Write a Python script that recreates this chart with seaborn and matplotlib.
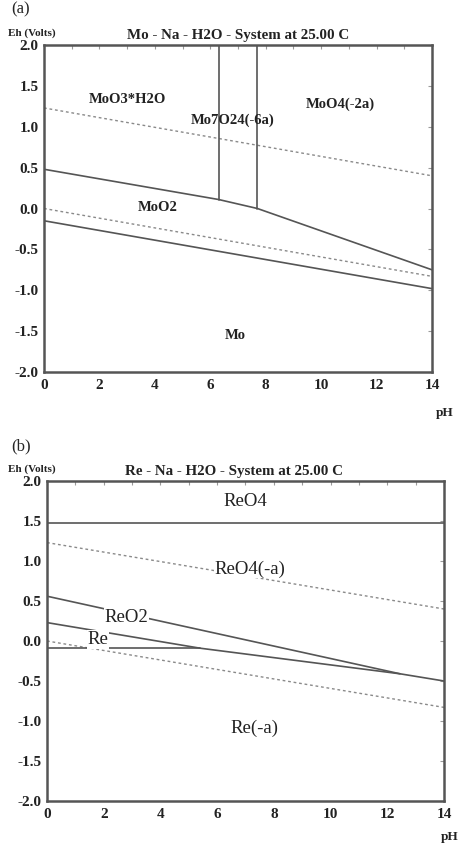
import matplotlib
matplotlib.use("Agg")
import matplotlib.pyplot as plt
import seaborn as sns
import pandas as pd
from matplotlib.ticker import MultipleLocator

# ---------------- data: panel (a) Mo system ----------------
mo_upper_ph = [0, 6.3, 7.7, 14]
mo_upper_eh = [0.48, 0.11, 0.0, -0.75]
mo_lower_ph = [0, 14]
mo_lower_eh = [-0.15, -0.98]
mo_v1_ph = [6.3, 6.3]
mo_v1_eh = [0.11, 2.0]
mo_v2_ph = [7.7, 7.7]
mo_v2_eh = [0.0, 2.0]

# water stability limits (dashed)
o2_ph = [0, 14]
o2_eh = [1.23, 0.40]
h2_ph = [0, 14]
h2_eh = [0.0, -0.83]

mo_labels = ["MoO3*H2O", "Mo7O24(-6a)", "MoO4(-2a)", "MoO2", "Mo"]
mo_label_ph = [3.0, 6.8, 10.7, 4.1, 6.9]
mo_label_eh = [1.33, 1.08, 1.27, 0.01, -1.55]

# ---------------- data: panel (b) Re system ----------------
re_top_ph = [0, 14]
re_top_eh = [1.47, 1.47]
reo2_upper_ph = [0, 12.45, 14]
reo2_upper_eh = [0.56, -0.41, -0.50]
re_upper_ph = [0, 5.4, 12.45]
re_upper_eh = [0.23, -0.09, -0.41]
re_lower_ph = [0, 5.4]
re_lower_eh = [-0.09, -0.09]

re_labels = ["ReO4", "ReO4(-a)", "ReO2", "Re", "Re(-a)"]
re_label_ph = [7.0, 7.15, 2.8, 1.8, 7.3]
re_label_eh = [1.74, 0.90, 0.30, 0.02, -1.09]

x_ticks = [0, 2, 4, 6, 8, 10, 12, 14]
y_ticks = [-2.0, -1.5, -1.0, -0.5, 0.0, 0.5, 1.0, 1.5, 2.0]

# ---------------- style ----------------
sns.set_style("white")
plt.rcParams["font.family"] = ["Liberation Serif", "DejaVu Serif"]

LINE = "#555555"
DASH = "#8a8a8a"
SPINE = "#555555"

fig = plt.figure(figsize=(4.58, 8.44), dpi=100)
ax_a = fig.add_axes([44/458, 1-372/844, 388/458, 327/844])
ax_b = fig.add_axes([47/458, 1-801/844, 397/458, 320/844])


def line(ax, xs, ys, color=LINE, lw=1.2, dashes=None):
    df = pd.DataFrame({"pH": xs, "Eh": ys})
    sns.lineplot(data=df, x="pH", y="Eh", ax=ax, color=color, lw=lw,
                 estimator=None, sort=False)
    if dashes is not None:
        ax.lines[-1].set_dashes(dashes)


def style_axes(ax):
    ax.set_xlim(0, 14)
    ax.set_ylim(-2.0, 2.0)
    ax.set_xticks(x_ticks)
    ax.set_yticks(y_ticks)
    ax.set_xticklabels([str(t) for t in x_ticks])
    ax.set_yticklabels([f"{t:.1f}" for t in y_ticks])
    ax.xaxis.set_minor_locator(MultipleLocator(1))
    ax.tick_params(axis="both", which="both", direction="in", top=True,
                   right=True, length=3, width=0.8, color="#9a9a9a")
    ax.tick_params(axis="x", which="major", pad=5)
    ax.tick_params(axis="y", which="major", pad=4)
    for lab in ax.get_xticklabels() + ax.get_yticklabels():
        lab.set_fontweight("bold")
        lab.set_fontsize(11)
        lab.set_color("#222222")
    for sp in ax.spines.values():
        sp.set_visible(True)
        sp.set_color(SPINE)
        sp.set_linewidth(1.8)
    ax.set_xlabel("")
    ax.set_ylabel("")


# ---------------- panel (a) ----------------
line(ax_a, o2_ph, o2_eh, color=DASH, lw=1.0, dashes=(2, 2))
line(ax_a, h2_ph, h2_eh, color=DASH, lw=1.0, dashes=(2, 2))
line(ax_a, mo_upper_ph, mo_upper_eh)
line(ax_a, mo_lower_ph, mo_lower_eh)
line(ax_a, mo_v1_ph, mo_v1_eh)
line(ax_a, mo_v2_ph, mo_v2_eh)
style_axes(ax_a)
for lab, x, y in zip(mo_labels, mo_label_ph, mo_label_eh):
    ax_a.text(x, y, lab, ha="center", va="center", fontsize=10.5,
              fontweight="bold", color="#222222")

# ---------------- panel (b) ----------------
line(ax_b, o2_ph, o2_eh, color=DASH, lw=1.0, dashes=(2, 2))
line(ax_b, h2_ph, h2_eh, color=DASH, lw=1.0, dashes=(2, 2))
line(ax_b, re_top_ph, re_top_eh)
line(ax_b, reo2_upper_ph, reo2_upper_eh)
line(ax_b, re_upper_ph, re_upper_eh)
line(ax_b, re_lower_ph, re_lower_eh)
style_axes(ax_b)
for lab, x, y in zip(re_labels, re_label_ph, re_label_eh):
    ax_b.text(x, y, lab, ha="center", va="center", fontsize=13.5,
              color="#222222", zorder=5,
              bbox=dict(facecolor="white", edgecolor="none", pad=0.5))

# ---------------- figure texts ----------------
fig.text(11/458, 1-9/844, "(a)", ha="left", va="center", fontsize=12)
fig.text(11/458, 1-446/844, "(b)", ha="left", va="center", fontsize=12)

fig.text(32/458, 1-33/844, "Eh (Volts)", ha="center", va="center",
         fontsize=8, fontweight="bold", color="#222222")
fig.text(32/458, 1-469/844, "Eh (Volts)", ha="center", va="center",
         fontsize=8, fontweight="bold", color="#222222")

fig.text(238/458, 1-36/844, "Mo - Na - H2O - System at 25.00 C",
         ha="center", va="center", fontsize=10.8, fontweight="bold",
         color="#222222")
fig.text(234/458, 1-472/844, "Re - Na - H2O - System at 25.00 C",
         ha="center", va="center", fontsize=10.8, fontweight="bold",
         color="#222222")

fig.text(445/458, 1-413/844, "pH", ha="center", va="center", fontsize=9.5,
         fontweight="bold", color="#222222")
fig.text(450/458, 1-837/844, "pH", ha="center", va="center", fontsize=9.5,
         fontweight="bold", color="#222222")

fig.savefig("out.png", dpi=100, facecolor="white")
